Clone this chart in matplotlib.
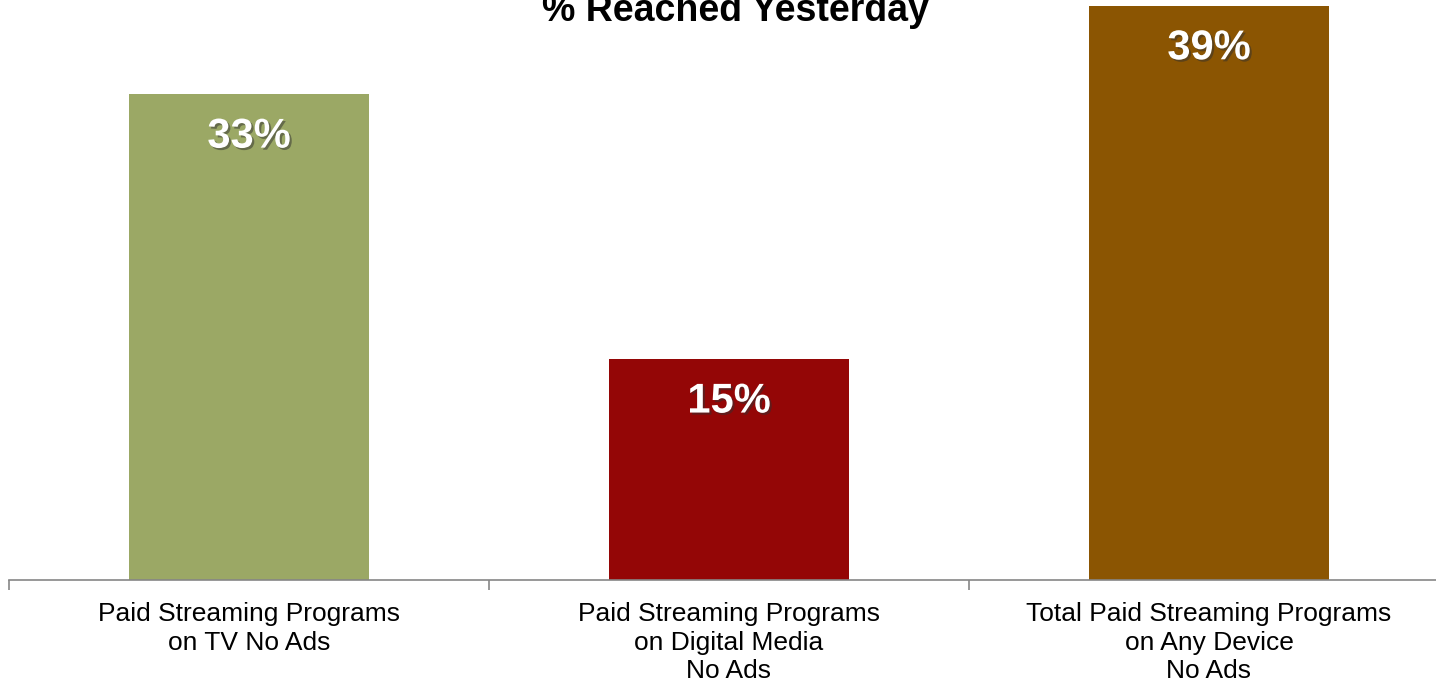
import numpy as np
import matplotlib.pyplot as plt
import matplotlib.patheffects as pe

plt.rcParams['font.family'] = ['Liberation Sans', 'DejaVu Sans']

categories = ['Paid Streaming Programs\non TV No Ads',
              'Paid Streaming Programs\non Digital Media\nNo Ads',
              'Total Paid Streaming Programs\non Any Device\nNo Ads']
values = [33, 15, 39]
colors = ['#9ba865', '#940606', '#8b5502']

fig = plt.figure(figsize=(14.36, 6.86), dpi=100)
# axes spans 3 categories of 480 px, the last boundary falls past the right edge
ax = fig.add_axes([9 / 1436, 106 / 686, 1440 / 1436, 580 / 686])

x = np.arange(len(values))
bars = ax.bar(x, values, width=0.5, color=colors, zorder=2)
ax.set_xlim(-0.5, len(values) - 0.5)
ax.set_ylim(0, 580 / 14.72)

shadow = [pe.SimplePatchShadow(offset=(1.5, -1.5), alpha=0.5, shadow_rgbFace='#303030'), pe.Normal()]
for b, v in zip(bars, values):
    ax.annotate(f'{v}%', (b.get_x() + b.get_width() / 2, v), xytext=(0, -30.5),
                textcoords='offset points', ha='center', va='center',
                fontsize=30, fontweight='bold', color='white', path_effects=shadow)

ax.set_xticks(x)
ax.set_xticklabels(categories, fontsize=19, linespacing=1.24)
ax.tick_params(axis='x', which='major', length=0, pad=16)
ax.set_xticks(np.arange(len(values) + 1) - 0.5, minor=True)
ax.tick_params(axis='x', which='minor', length=7, color='#868686', width=1.2)
ax.set_yticks([])
for s in ['top', 'right', 'left']:
    ax.spines[s].set_visible(False)
ax.spines['bottom'].set_color('#868686')
ax.spines['bottom'].set_linewidth(1.2)

fig.text(735 / 1436, 1 - 21 / 686, '% Reached Yesterday', ha='center', va='baseline',
         fontsize=27, fontweight='bold')

fig.savefig('out.png', dpi=100)
